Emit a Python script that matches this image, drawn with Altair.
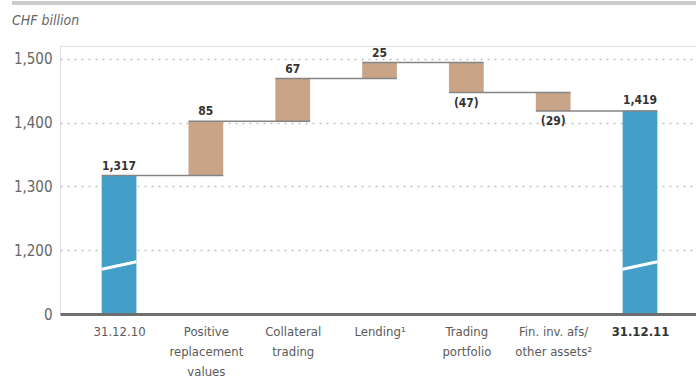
import json
import altair as alt
import pandas as pd

# ---- data ----
categories = ["31.12.10", "Positive|replacement|values", "Collateral|trading", "Lending¹",
              "Trading|portfolio", "Fin. inv. afs/|other assets²", "31.12.11"]
values = [1317, 85, 67, 25, -47, -29, 1419]
is_total = [True, False, False, False, False, False, True]
y_tick_values = [1100, 1150, 1200, 1250, 1300, 1350, 1400, 1450, 1500]

BASE = 1100          # axis break: this position is labelled "0"
BREAK_LO, BREAK_HI = 1170, 1182
HALF = 0.2
FONT = "Liberation Sans Narrow, DejaVu Sans Condensed, sans-serif"

rows = []
cur = 0
for i, (c, v, t) in enumerate(zip(categories, values, is_total)):
    if t:
        start, end = BASE, v
        cur = v
        txt = f"{v:,}"
    else:
        start, end = cur, cur + v
        cur = end
        txt = f"{v}" if v >= 0 else f"({-v})"
    rows.append(dict(idx=i, left=i - HALF, right=i + HALF, start=start, end=end,
                     kind="total" if t else "delta", text=txt, pos=v >= 0))
df = pd.DataFrame(rows)

conn = pd.DataFrame([dict(x=r["idx"] - HALF, x2=r["idx"] + 1 + HALF, y=r["end"])
                     for r in rows[:-1]])
brk = pd.DataFrame([dict(x=r["left"], x2=r["right"], y=BREAK_LO, y2=BREAK_HI)
                    for r in rows if r["kind"] == "total"])

xscale = alt.Scale(domain=[-0.68, 6.645], nice=False, zero=False)
yscale = alt.Scale(domain=[1100, 1520], nice=False, zero=False)

x_label_expr = f"split({json.dumps(categories, ensure_ascii=False)}[datum.value], '|')"
y_label_expr = ("datum.value == 1100 ? '0' : (datum.value % 100 == 0 ? "
                "format(datum.value, ',') : '')")

base = alt.Chart(df)

bars = base.mark_bar().encode(
    x=alt.X("left:Q", scale=xscale, title=None,
            axis=alt.Axis(values=list(range(7)), labelExpr=x_label_expr, ticks=False,
                          grid=False, domain=True, domainColor="#6e6e6e", domainWidth=3,
                          labelFont=FONT, labelFontSize=13, labelLineHeight=20,
                          labelPadding=11, labelOverlap=False, labelBound=False,
                          labelColor={"condition": {"test": "datum.value == 6", "value": "#333333"},
                                      "value": "#5a5a5a"},
                          labelFontWeight={"condition": {"test": "datum.value == 6", "value": "bold"},
                                           "value": "normal"},
                          zindex=1)),
    x2="right:Q",
    y=alt.Y("start:Q", scale=yscale, title=None,
            axis=alt.Axis(values=y_tick_values, labelExpr=y_label_expr, ticks=False,
                          domain=False, grid=True, gridDash=[2, 5], gridColor="#c0c0c0",
                          gridWidth=1.5, labelFont=FONT, labelFontSize=15,
                          labelColor="#666666", labelPadding=8)),
    y2="end:Q",
    color=alt.Color("kind:N", scale=alt.Scale(domain=["total", "delta"],
                                              range=["#439fc7", "#c9a487"]), legend=None),
)

connectors = alt.Chart(conn).mark_rule(color="#858585", strokeWidth=1.5).encode(
    x=alt.X("x:Q", scale=xscale), x2="x2:Q", y=alt.Y("y:Q", scale=yscale))

breaks = alt.Chart(brk).mark_rule(color="white", strokeWidth=3).encode(
    x=alt.X("x:Q", scale=xscale), x2="x2:Q",
    y=alt.Y("y:Q", scale=yscale), y2="y2:Q")

labels_up = base.transform_filter("datum.pos").mark_text(
    baseline="bottom", dy=-3, font=FONT, fontSize=12, fontWeight="bold", color="#333333"
).encode(x=alt.X("idx:Q", scale=xscale), y=alt.Y("end:Q", scale=yscale), text="text:N")

labels_down = base.transform_filter("!datum.pos").mark_text(
    baseline="top", dy=5, font=FONT, fontSize=12, fontWeight="bold", color="#333333"
).encode(x=alt.X("idx:Q", scale=xscale), y=alt.Y("end:Q", scale=yscale), text="text:N")

unit = alt.Chart(pd.DataFrame({"t": ["CHF billion"]})).mark_text(
    align="left", baseline="alphabetic", font=FONT, fontSize=14, fontStyle="italic",
    color="#666666"
).encode(x=alt.value(-48), y=alt.value(-21), text="t:N")

top_rule = alt.Chart(pd.DataFrame({"a": [0]})).mark_rule(
    color="#cccccc", strokeWidth=4
).encode(x=alt.value(-48), x2=alt.value(636), y=alt.value(-43))

chart = alt.layer(bars, connectors, breaks, labels_up, labels_down, unit, top_rule).properties(
    width=636, height=268,
    padding={"left": 60, "top": 46, "right": 0, "bottom": 67},
    autosize=alt.AutoSizeParams(type="none"),
).configure_view(stroke=None).configure(background="white")

chart.save("out.html", embed_options={"renderer": "svg", "actions": False})
